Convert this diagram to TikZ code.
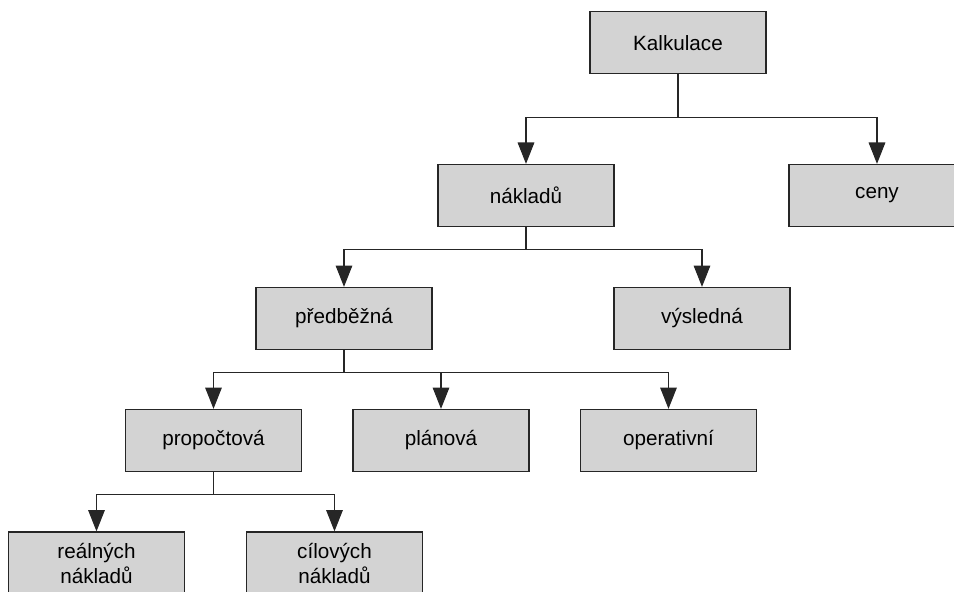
\documentclass[tikz,border=0pt]{standalone}
\usepackage{fontspec}
\setmainfont{Liberation Sans}
\usetikzlibrary{arrows.meta}
\definecolor{boxgray}{RGB}{211,211,211}

\begin{document}
\begin{tikzpicture}[x=0.75pt, y=-0.75pt]
        \tikzstyle{level} = [rectangle, minimum width=132pt, minimum height=46.5pt, inner sep=0pt, align=center, draw=black!85, line width=1pt, fill=boxgray, font=\fontsize{15.5}{18.75}\selectfont]
        \tikzstyle{arrow} = [line width=0.8pt, draw=black!85, -{Triangle[length=16pt, width=12.5pt]}]

        \useasboundingbox (0,0) rectangle (954,592);
        \clip (0,0) rectangle (954,592);

        \node (kalk) [level] at (678,42.8) {Kalkulace};
        \node (naklady) [level] at (526,195.5) {nákladů};
        \node (ceny) [level] at (877,195.5) {ceny};
        \node (predbezna) [level] at (344,318.5) {předběžná};
        \node (vysledna) [level] at (702,318.5) {výsledná};
        \node (propoctova) [level] at (213.5,440.5) {propočtová};
        \node (planova) [level] at (441,440.5) {plánová};
        \node (operativni) [level] at (668.5,440.5) {operativní};
        \node (realnych) [level] at (96.5,563) {reálných\\nákladů};
        \node (cilovych) [level] at (334.5,563) {cílových\\nákladů};

        \draw [arrow] (kalk.south) -- ++(0,43.5) -| (naklady.north);
        \draw [arrow] (kalk.south) -- ++(0,43.5) -| (ceny.north);
        \draw [arrow] (naklady.south) -- ++(0,22.5) -| (predbezna.north);
        \draw [arrow] (naklady.south) -- ++(0,22.5) -| (vysledna.north);
        \draw [arrow] (predbezna.south) -- ++(0,22) -| (propoctova.north);
        \draw [arrow] (predbezna.south) -- ++(0,22) -| (planova.north);
        \draw [arrow] (predbezna.south) -- ++(0,22) -| (operativni.north);
        \draw [arrow] (propoctova.south) -- ++(0,22.5) -| (realnych.north);
        \draw [arrow] (propoctova.south) -- ++(0,22.5) -| (cilovych.north);
    \end{tikzpicture}
\end{document}
